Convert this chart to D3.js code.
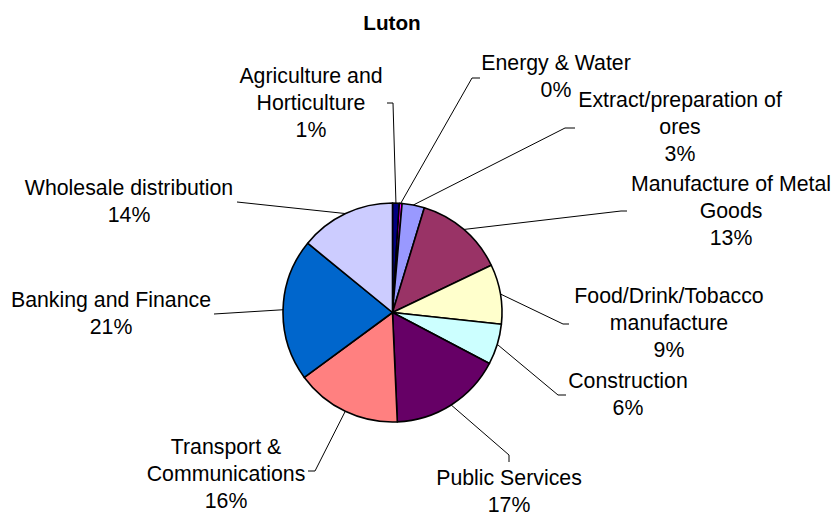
<!DOCTYPE html>
<html>
<head>
<meta charset="utf-8">
<script src="https://cdn.jsdelivr.net/npm/d3@7"></script>
<style>
  html, body { margin: 0; padding: 0; background: #ffffff; }
  svg { display: block; }
  text { font-family: "Liberation Sans", Arial, sans-serif; fill: #000; }
</style>
</head>
<body>
<div id="chart"></div>
<script>
// Employment by sector, Luton (share of employees)
const sectors = [
  "Agriculture and Horticulture",
  "Energy & Water",
  "Extract/preparation of ores",
  "Manufacture of Metal Goods",
  "Food/Drink/Tobacco manufacture",
  "Construction",
  "Public Services",
  "Transport & Communications",
  "Banking and Finance",
  "Wholesale distribution"
];
const shares = [1.0, 0.4, 3.3, 13.2, 8.8, 6.0, 16.6, 15.6, 21.0, 14.1];
const sectorColors = [
  "#000080", "#FF00FF", "#9999FF", "#993366", "#FFFFCC",
  "#CCFFFF", "#660066", "#FF8080", "#0066CC", "#CCCCFF"
];
// Text lines for each data label (the percentage is appended from the data)
const labelLines = [
  ["Agriculture and", "Horticulture"],
  ["Energy & Water"],
  ["Extract/preparation of", "ores"],
  ["Manufacture of Metal", "Goods"],
  ["Food/Drink/Tobacco", "manufacture"],
  ["Construction"],
  ["Public Services"],
  ["Transport &", "Communications"],
  ["Banking and Finance"],
  ["Wholesale distribution"]
];

const width = 835, height = 516;
const cx = 392.5, cy = 312.5, radius = 109.5;
const fontSize = 21.3, lineHeight = 26.8;

// Label placement: text centre x, first baseline y, and leader-line elbow points
const labelLayout = [
  { x: 311, y: 83,  leader: [[393, 103], [387, 103]] },
  { x: 556, y: 70,  leader: [[472, 78], [480, 78]] },
  { x: 680, y: 107, leader: [[565, 128], [575, 128]] },
  { x: 731, y: 191, leader: [[621, 211], [627, 211]] },
  { x: 669, y: 303, leader: [[563, 324], [569, 324]] },
  { x: 628, y: 388, leader: [[558, 395], [566, 395]] },
  { x: 509, y: 485, leader: [[509, 455], [509, 462]] },
  { x: 226, y: 454, leader: [[315, 471], [308, 471]] },
  { x: 111, y: 307, leader: [[214, 314]] },
  { x: 129, y: 195, leader: [[237, 202]] }
];

const data = sectors.map((s, i) => ({ name: s, value: shares[i], color: sectorColors[i], i }));
const total = d3.sum(shares);

const svg = d3.select("#chart").append("svg")
  .attr("width", width).attr("height", height);

svg.append("text")
  .attr("x", 392).attr("y", 30)
  .attr("text-anchor", "middle")
  .style("font-size", "20.7px")
  .style("font-weight", "bold")
  .text("Luton");

const pie = d3.pie().value(d => d.value).sort(null);
const arcs = pie(data);
const arc = d3.arc().innerRadius(0).outerRadius(radius);

const g = svg.append("g").attr("transform", `translate(${cx},${cy})`);

g.selectAll("path.slice")
  .data(arcs)
  .join("path")
  .attr("class", "slice")
  .attr("d", arc)
  .attr("fill", d => d.data.color)
  .attr("stroke", "#000")
  .attr("stroke-width", 1.6)
  .attr("stroke-linejoin", "round");

// Leader lines from each slice's mid-angle on the rim to its label
const line = d3.line();
svg.selectAll("path.leader")
  .data(arcs)
  .join("path")
  .attr("class", "leader")
  .attr("fill", "none")
  .attr("stroke", "#000")
  .attr("stroke-width", 1)
  .attr("d", d => {
    const a = (d.startAngle + d.endAngle) / 2;
    const start = [cx + radius * Math.sin(a), cy - radius * Math.cos(a)];
    return line([start, ...labelLayout[d.data.i].leader]);
  });

// Data labels: category name plus rounded percentage
const pct = v => Math.round(v / total * 100) + "%";
const labels = svg.selectAll("text.label")
  .data(arcs)
  .join("text")
  .attr("class", "label")
  .attr("text-anchor", "middle")
  .style("font-size", fontSize + "px");

labels.each(function(d) {
  const lay = labelLayout[d.data.i];
  const lines = labelLines[d.data.i].concat([pct(d.data.value)]);
  d3.select(this).selectAll("tspan")
    .data(lines)
    .join("tspan")
    .attr("x", lay.x)
    .attr("y", (t, k) => lay.y + k * lineHeight)
    .text(t => t);
});
</script>
</body>
</html>
